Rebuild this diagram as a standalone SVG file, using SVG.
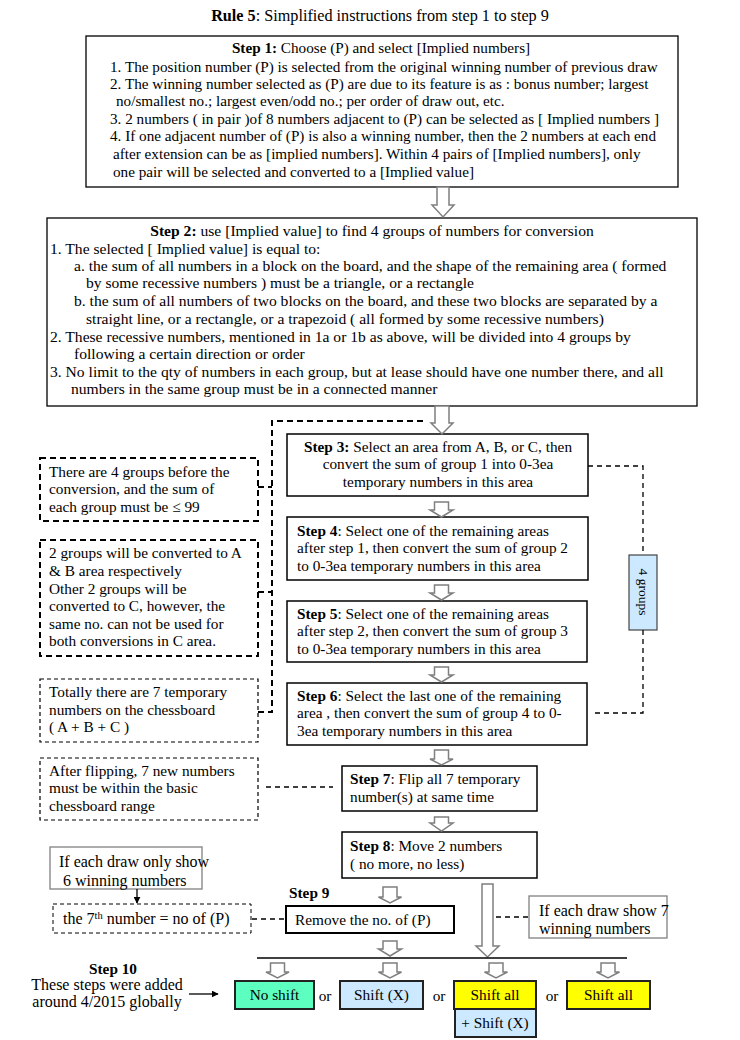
<svg xmlns="http://www.w3.org/2000/svg" width="740" height="1040" viewBox="0 0 740 1040">
<style>
text{font-family:"Liberation Serif","Times New Roman",serif;fill:#000}
.s1{font-size:15.2px}
.s2{font-size:15.6px}
.t15{font-size:15.3px}
.t16{font-size:16px}
.b{font-weight:bold}
.box{fill:#fff;stroke:#000;stroke-width:1.5}
.dashA{fill:none;stroke:#000;stroke-width:2;stroke-dasharray:6 4}
.dashB{fill:none;stroke:#000;stroke-width:1.2;stroke-dasharray:4 3}
.dashC{fill:none;stroke:#000;stroke-width:1.3;stroke-dasharray:5 4}
.grey{fill:#fff;stroke:#808080;stroke-width:1.3}
.harrow{fill:#fff;stroke:#7f7f7f;stroke-width:1.5;stroke-linejoin:miter}
.line{fill:none;stroke:#000;stroke-width:1.3}
.m{text-anchor:middle}
</style>
<defs>
<marker id="ah" viewBox="0 0 10 10" refX="9" refY="5" markerWidth="7" markerHeight="7" orient="auto" markerUnits="userSpaceOnUse">
<path d="M0 0 L10 5 L0 10 Z" fill="#000"/>
</marker>
</defs>
<rect width="740" height="1040" fill="#fff"/>

<g id="title">
<text x="380" y="21" class="m" style="font-size:16.2px"><tspan class="b">Rule 5</tspan>: Simplified instructions from step 1 to step 9</text>
</g>

<g id="step1">
<rect x="86" y="36" width="592" height="151" class="box" style="stroke-width:1.3"/>
<text x="381" y="53" class="s1 m"><tspan class="b">Step 1:</tspan>  Choose (P) and select [Implied numbers]</text>
<text x="110" y="72" class="s1">1. The position number (P) is selected from the original winning number of previous draw</text>
<text x="110" y="89" class="s1">2. The winning number selected as (P) are due to its feature is as : bonus number; largest</text>
<text x="116" y="106" class="s1">no/smallest no.; largest even/odd  no.; per order of draw out, etc.</text>
<text x="110" y="124" class="s1">3. 2 numbers ( in pair )of 8 numbers adjacent to (P) can be selected as [ Implied numbers ]</text>
<text x="110" y="141" class="s1">4. If one adjacent number of (P) is also a winning number, then the 2 numbers at each end</text>
<text x="113" y="159" class="s1">after extension can be as [implied numbers]. Within 4 pairs of [Implied numbers], only</text>
<text x="113" y="177" class="s1">one pair will be selected and converted to a [Implied value]</text>
</g>

<g id="step2">
<rect x="47" y="218" width="650" height="188" class="box" style="stroke-width:1.3"/>
<text x="372" y="236" class="s2 m"><tspan class="b">Step 2:</tspan>  use [Implied value] to find 4 groups of numbers for conversion</text>
<text x="50" y="254" class="s2">1. The selected [ Implied value]  is equal to:</text>
<text x="74" y="271" class="s2">a. the sum of all numbers in a block on the board, and the shape of the remaining area ( formed</text>
<text x="86" y="288" class="s2">by some recessive numbers ) must be a triangle, or a rectangle</text>
<text x="74" y="306" class="s2">b. the sum of all numbers of  two blocks on the board, and these two blocks are separated by a</text>
<text x="86" y="324" class="s2">straight  line, or a rectangle, or a trapezoid ( all formed by some recessive numbers)</text>
<text x="50" y="342" class="s2">2. These recessive numbers, mentioned  in 1a or 1b as above, will be divided into 4 groups by</text>
<text x="74" y="359" class="s2">following a certain direction or order</text>
<text x="50" y="377" class="s2">3. No limit to the qty of numbers in each group, but at lease should have one number there, and all</text>
<text x="71" y="394" class="s2">numbers in the same group must be in a connected manner</text>
</g>

<g id="step3">
<rect x="287" y="434" width="301" height="62" class="box"/>
<text x="438" y="452" class="t15 m"><tspan class="b">Step 3:</tspan> Select an area from A, B, or C, then</text>
<text x="438" y="469" class="t15 m">convert the sum of group 1 into 0-3ea</text>
<text x="438" y="487" class="t15 m">temporary numbers in this area</text>
</g>

<g id="step4">
<rect x="287" y="517" width="301" height="63" class="box"/>
<text x="297" y="536" class="t15"><tspan class="b">Step 4</tspan>: Select one of the remaining areas</text>
<text x="297" y="553" class="t15">after step 1, then convert the sum of  group 2</text>
<text x="297" y="571" class="t15">to 0-3ea temporary numbers in this area</text>
</g>

<g id="step5">
<rect x="287" y="601" width="300" height="61" class="box"/>
<text x="297" y="619" class="t15"><tspan class="b">Step 5</tspan>: Select one of the remaining areas</text>
<text x="297" y="636" class="t15">after step 2, then convert the sum of  group 3</text>
<text x="297" y="654" class="t15">to 0-3ea temporary numbers in this area</text>
</g>

<g id="step6">
<rect x="287" y="683" width="300" height="62" class="box"/>
<text x="297" y="701" class="t15"><tspan class="b">Step 6</tspan>: Select the last one of the remaining</text>
<text x="297" y="718" class="t15">area , then convert the sum of  group 4 to 0-</text>
<text x="297" y="736" class="t15">3ea temporary numbers in this area</text>
</g>

<g id="step7">
<rect x="342" y="766" width="195" height="45" class="box"/>
<text x="350" y="784" class="t15"><tspan class="b">Step 7</tspan>: Flip all 7 temporary</text>
<text x="350" y="802" class="t15">number(s) at same time</text>
</g>

<g id="step8">
<rect x="342" y="832" width="195" height="46" class="box"/>
<text x="350" y="851" class="t15"><tspan class="b">Step 8</tspan>: Move 2 numbers</text>
<text x="350" y="869" class="t15"> ( no more, no less)</text>
</g>

<g id="step9">
<text x="289" y="898" class="t15 b">Step 9</text>
<rect x="286" y="906" width="168" height="27" class="box" style="stroke-width:2"/>
<text x="295" y="925" class="t15">Remove the no. of (P)</text>
</g>

<g id="note-groups">
<rect x="40" y="458" width="218" height="63" class="dashA"/>
<text x="49" y="477" class="t15">There are 4 groups before the</text>
<text x="49" y="494" class="t15">conversion, and the sum of</text>
<text x="49" y="512" class="t15">each group must be ≤ 99</text>
</g>

<g id="note-convert">
<rect x="40" y="540" width="218" height="116" class="dashA"/>
<text x="49" y="558" class="t15">2 groups will be converted to A</text>
<text x="49" y="576" class="t15">&amp; B area respectively</text>
<text x="49" y="594" class="t15">Other 2 groups will be</text>
<text x="49" y="611" class="t15">converted to C, however, the</text>
<text x="49" y="629" class="t15">same no. can not be used for</text>
<text x="49" y="646" class="t15">both conversions in C area.</text>
</g>

<g id="note-total">
<rect x="40" y="679" width="218" height="63" class="dashB"/>
<text x="49" y="697" class="t15">Totally there are 7 temporary</text>
<text x="49" y="715" class="t15">numbers on the chessboard</text>
<text x="49" y="732" class="t15">( A + B + C )</text>
</g>

<g id="note-flip">
<rect x="40" y="758" width="218" height="62" class="dashB"/>
<text x="49" y="776" class="t15">After flipping, 7 new numbers</text>
<text x="49" y="793" class="t15">must  be within the basic</text>
<text x="49" y="811" class="t15">chessboard range</text>
</g>

<g id="label-4groups">
<rect x="629" y="555" width="28" height="75" fill="#cce9ff" stroke="#444" stroke-width="1.2"/>
<text x="643" y="592" class="m" style="font-size:13.5px" dominant-baseline="central" transform="rotate(90 643 592)">4 groups</text>
</g>

<g id="note-6">
<rect x="50" y="847" width="152" height="42" class="grey"/>
<text x="59" y="867" class="t16">If each draw only show</text>
<text x="63" y="886" class="t16">6 winning numbers</text>
</g>

<g id="note-7th">
<rect x="53" y="904" width="198" height="29" class="dashB" style="stroke-width:1"/>
<text x="63" y="924" class="t16">the 7<tspan dy="-5" style="font-size:10.5px">th</tspan><tspan dy="5"> number = no of (P)</tspan></text>
</g>

<g id="note-7">
<rect x="529" y="896" width="138" height="42" class="grey"/>
<text x="539" y="916" class="t16">If each draw show 7</text>
<text x="539" y="934" class="t16">winning numbers</text>
</g>

<g id="step10">
<text x="113" y="974" class="t15 b m">Step 10</text>
<text x="107" y="990" class="t16 m">These steps were added</text>
<text x="107" y="1007" class="t16 m">around 4/2015 globally</text>
</g>

<g id="opt-noshift">
<rect x="235" y="981" width="79" height="28" fill="#5cffc0" stroke="#222" stroke-width="2"/>
<text x="274.5" y="1000" class="t15 m">No shift</text>
</g>
<g id="opt-shiftx">
<rect x="340" y="981" width="83" height="28" fill="#cce9ff" stroke="#222" stroke-width="2"/>
<text x="381.5" y="1000" class="t15 m">Shift (X)</text>
</g>
<g id="opt-shiftall-x">
<rect x="454" y="981" width="82" height="28" fill="#ffff00" stroke="#222" stroke-width="2"/>
<text x="495" y="1000" class="t15 m">Shift all</text>
<rect x="455" y="1009" width="81" height="28" fill="#cce9ff" stroke="#222" stroke-width="2"/>
<text x="495" y="1028" class="t15 m">+ Shift (X)</text>
</g>
<g id="opt-shiftall">
<rect x="567" y="981" width="83" height="28" fill="#ffff00" stroke="#222" stroke-width="2"/>
<text x="608.5" y="1000" class="t15 m">Shift all</text>
</g>
<g id="or-labels">
<text x="325" y="1001" class="t15 m">or</text>
<text x="439" y="1001" class="t15 m">or</text>
<text x="552" y="1001" class="t15 m">or</text>
</g>

<g id="connectors">
<path class="harrow" d="M437 187 V205 H432 L443 217 L454 205 H449 V187 Z"/>
<path class="harrow" d="M435 406 V423 H431 L442 434 L453 423 H449 V406 Z"/>
<path class="harrow" d="M434.5 502 V510 H430 L441.5 517 L453 510 H448.5 V502 Z"/>
<path class="harrow" d="M434.5 585 V593 H430 L441.5 600 L453 593 H448.5 V585 Z"/>
<path class="harrow" d="M434.5 667 V675 H430 L441.5 682 L453 675 H448.5 V667 Z"/>
<path class="harrow" d="M434.5 750 V759 H430 L441.5 765 L453 759 H448.5 V750 Z"/>
<path class="harrow" d="M434.5 817 V823 H430 L441.5 831 L453 823 H448.5 V817 Z"/>
<path class="harrow" d="M383 887 V897 H378.5 L390 903 L401.5 897 H397 V887 Z"/>
<path class="harrow" d="M383 941 V949 H378.5 L390 956 L401.5 949 H397 V941 Z"/>
<path class="harrow" d="M482 884 V946 H476 L487.5 957 L499 946 H493 V884 Z"/>
<path class="line" d="M257 958 H627"/>
<path class="harrow" d="M270.5 963 V972 H266 L277.5 978 L289 972 H284.5 V963 Z"/>
<path class="harrow" d="M383 963 V972 H378.5 L390 978 L401.5 972 H397 V963 Z"/>
<path class="harrow" d="M489 963 V972 H484.5 L496 978 L507.5 972 H503 V963 Z"/>
<path class="harrow" d="M601 963 V972 H596.5 L608 978 L619.5 972 H615 V963 Z"/>
<path class="dashA" d="M423 421 H272 V712 H258 M258 487 H272 M258 592 H272"/>
<path class="dashC" d="M588 466 H643 V555 M643 630 V713 H593"/>
<path class="dashC" d="M266 787 H333"/>
<path class="dashC" d="M252 919 H285"/>
<path class="dashC" d="M496 917 H528"/>
<path class="line" d="M137 889 V903" marker-end="url(#ah)"/>
<path class="line" d="M189 994 H218" marker-end="url(#ah)"/>
</g>
</svg>
